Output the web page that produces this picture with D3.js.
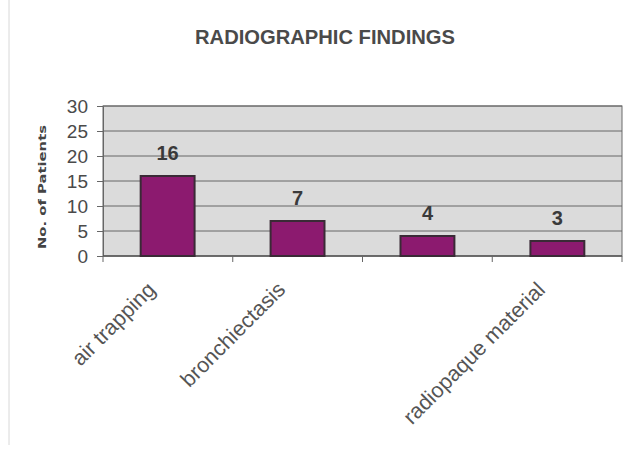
<!DOCTYPE html>
<html><head><meta charset="utf-8">
<script src="https://cdn.jsdelivr.net/npm/d3@7/dist/d3.min.js"></script>
<style>html,body{margin:0;padding:0;background:#fff;}svg{display:block;}</style>
</head><body>
<svg id="chart" width="636" height="450"></svg>
<script>
const categories = ["air trapping", "bronchiectasis", "", "radiopaque material"];
const values = [16, 7, 4, 3];
const yTicks = [0, 5, 10, 15, 20, 25, 30];
const title = "RADIOGRAPHIC FINDINGS";
const yTitle = "No. of Patients";

const svg = d3.select("#chart");
const m = {left: 103, right: 14, top: 106, bottom: 194};
const W = 636, H = 450;
const x = d3.scaleBand().domain(d3.range(categories.length)).range([m.left, W - m.right]).paddingInner(0.585).paddingOuter(0.29);
const y = d3.scaleLinear().domain([0, 30]).range([H - m.bottom, m.top]);
const step = (W - m.right - m.left) / categories.length;

// faint outer border
svg.append("line").attr("x1", 9).attr("x2", 9).attr("y1", 0).attr("y2", 445).attr("stroke", "#d8d8d8").attr("stroke-width", 1);

// title
svg.append("text").attr("x", 325).attr("y", 44).attr("text-anchor", "middle")
  .attr("font-family", "Liberation Sans, Arial, sans-serif").attr("font-size", 20).attr("font-weight", "bold")
  .attr("fill", "#4a4a4a").attr("textLength", 260).attr("lengthAdjust", "spacingAndGlyphs").text(title);

// plot background
svg.append("rect").attr("x", m.left).attr("y", m.top).attr("width", W - m.right - m.left).attr("height", y(0) - m.top)
  .attr("fill", "#dbdbdb").attr("stroke", "#6a6a6a").attr("stroke-width", 1);

// gridlines
svg.append("g").selectAll("line").data(yTicks.filter(d => d > 0)).join("line")
  .attr("x1", m.left).attr("x2", W - m.right).attr("y1", d => y(d)).attr("y2", d => y(d))
  .attr("stroke", "#666").attr("stroke-width", 1);

// y axis
const yAxis = d3.axisLeft(y).tickValues(yTicks).tickSize(6).tickPadding(9).tickSizeOuter(0);
const gy = svg.append("g").attr("transform", `translate(${m.left},0)`).call(yAxis);
gy.select(".domain").attr("stroke", "#666");
gy.selectAll(".tick line").attr("stroke", "#666");
gy.selectAll(".tick text").attr("font-family", "Liberation Sans, Arial, sans-serif").attr("font-size", 19).attr("fill", "#4a4a4a");

// x axis (ticks at band boundaries)
svg.append("line").attr("x1", m.left).attr("x2", W - m.right).attr("y1", y(0)).attr("y2", y(0)).attr("stroke", "#555").attr("stroke-width", 1.5);
svg.append("g").selectAll("line").data(d3.range(categories.length + 1)).join("line")
  .attr("x1", i => m.left + i * step).attr("x2", i => m.left + i * step)
  .attr("y1", y(0)).attr("y2", y(0) + 6).attr("stroke", "#666");

// bars
svg.append("g").selectAll("rect").data(values).join("rect")
  .attr("x", (d, i) => x(i)).attr("y", d => y(d)).attr("width", x.bandwidth()).attr("height", d => y(0) - y(d))
  .attr("fill", "#8c1a6f").attr("stroke", "#3a2a36").attr("stroke-width", 2);

// value labels
svg.append("g").selectAll("text").data(values).join("text")
  .attr("x", (d, i) => x(i) + x.bandwidth() / 2).attr("y", d => y(d) - 16).attr("text-anchor", "middle")
  .attr("font-family", "Liberation Sans, Arial, sans-serif").attr("font-size", 20).attr("font-weight", "bold")
  .attr("fill", "#3a3a3a").text(d => d);

// category labels
svg.append("g").selectAll("text").data(categories).join("text")
  .attr("transform", (d, i) => `translate(${x(i) + x.bandwidth() / 2 - 11},${y(0) + 35}) rotate(-45)`)
  .attr("text-anchor", "end")
  .attr("font-family", "Liberation Sans, Arial, sans-serif").attr("font-size", 21.5)
  .attr("fill", "#555").text(d => d);

// y title
svg.append("text").attr("transform", `translate(46,${(m.top + y(0)) / 2 + 6}) rotate(-90)`)
  .attr("text-anchor", "middle").attr("font-family", "DejaVu Sans, sans-serif").attr("font-size", 11).attr("font-weight", "bold")
  .attr("fill", "#444").attr("textLength", 124).attr("lengthAdjust", "spacingAndGlyphs").text(yTitle);
</script>
</body></html>
